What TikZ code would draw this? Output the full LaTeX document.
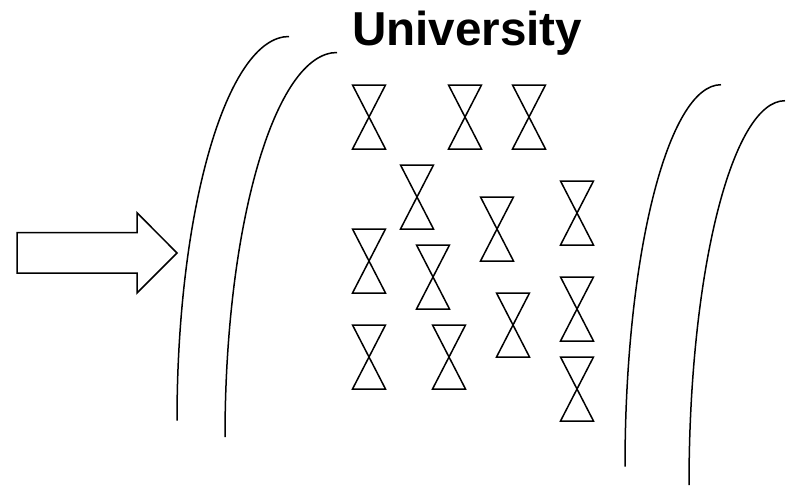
\documentclass[tikz,border=0pt]{standalone}
\usepackage{fontspec}
\setmainfont{Liberation Sans}
\tikzset{
  inkline/.style={draw=black,line width=1.5pt,line join=miter},
  hourglass/.pic={\draw[inkline] (-16.5,0) -- (16.5,0) -- (-16.5,64) -- (16.5,64) -- cycle;},
  title/.style={inner sep=0pt,anchor=base west,font=\fontsize{47.6}{47.6}\selectfont\bfseries}
}
\begin{document}
\begin{tikzpicture}[x=1pt,y=-1pt]
\useasboundingbox (0,0) rectangle (794,485);
\node[title] (title) at (351.8,45) {University};
% arrow
\draw[inkline] (17,232.7) -- (137,232.7) -- (137,212.7) -- (177,253) -- (137,293) -- (137,273) -- (17,273) -- cycle;
% curved walls
\draw[inkline] (177,420.5) arc[start angle=180,end angle=270,x radius=112,y radius=384];
\draw[inkline] (225,437) arc[start angle=180,end angle=270,x radius=112,y radius=384.5];
\draw[inkline] (625,466.7) arc[start angle=180,end angle=270,x radius=96,y radius=382];
\draw[inkline] (689,485) arc[start angle=180,end angle=270,x radius=96,y radius=384.3];
% hourglasses
\foreach \cx/\ty in {369/85,465/85,529/85,417/165,497/197,577/181,369/229,433/245,513/293,577/277,369/325,449/325,577/357}
  \pic at (\cx,\ty) {hourglass};
\end{tikzpicture}
\end{document}
